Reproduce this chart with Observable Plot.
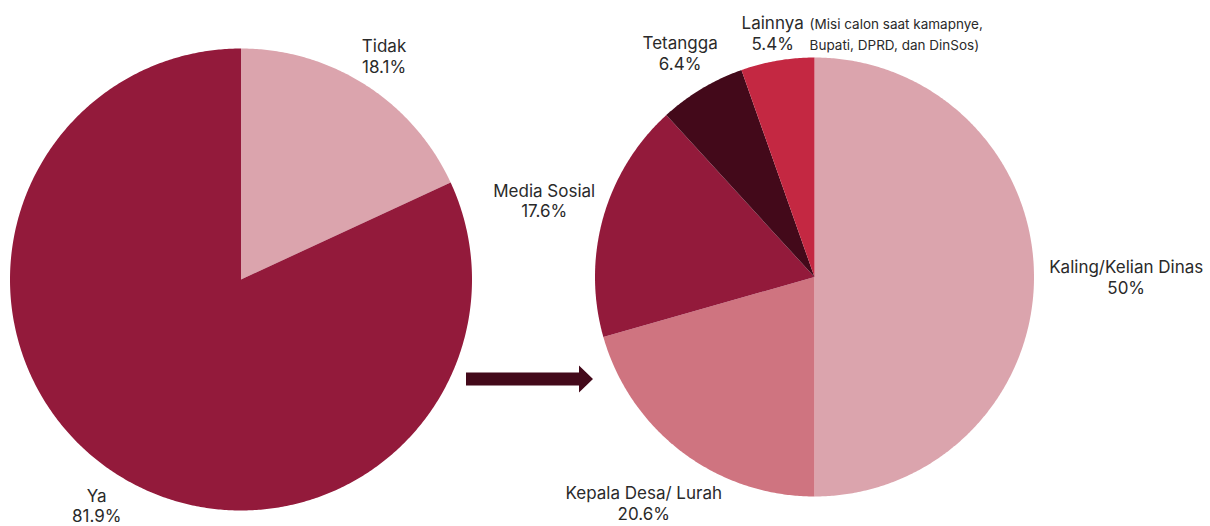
<!DOCTYPE html>
<html>
<head>
<meta charset="utf-8">
<script src="https://cdn.jsdelivr.net/npm/d3@7"></script>
<script src="https://cdn.jsdelivr.net/npm/@observablehq/plot@0.6"></script>
<style>
  html, body { margin: 0; padding: 0; background: #fff; }
  #chart { width: 1210px; height: 526px; }
</style>
</head>
<body>
<div id="chart"></div>
<script>
// ---- Data ----
const leftCategories = ["Tidak", "Ya"];
const leftValues = [18.1, 81.9];
const leftLabels = ["Tidak\n18.1%", "Ya\n81.9%"];
const leftColors = ["#dba4ad", "#931a3b"];

const rightCategories = ["Kaling/Kelian Dinas", "Kepala Desa/ Lurah", "Media Sosial", "Tetangga", "Lainnya"];
const rightValues = [50, 20.6, 17.6, 6.4, 5.4];
const rightLabels = ["Kaling/Kelian Dinas\n50%", "Kepala Desa/ Lurah\n20.6%", "Media Sosial\n17.6%", "Tetangga\n6.4%", "Lainnya\n5.4%"];
const rightColors = ["#dba4ad", "#cf7480", "#931a3b", "#43091a", "#c42842"];
const lainnyaNote = "(Misi calon saat kamapnye,\nBupati, DPRD, dan DinSos)";

// ---- Layout ----
const W = 1210, H = 526;
const leftPie = {cx: 240.5, cy: 279, r: 231, labelR: [1.15, 1.16]};
const rightPie = {cx: 814, cy: 276.5, r: 219.5, labelR: [1.42, 1.29, 1.28, 1.19, 1.13]};

function wedges(cats, vals, pie, prefix) {
  const total = d3.sum(vals);
  const pts = [];
  const labels = [];
  let acc = 0;
  cats.forEach((c, i) => {
    const a0 = acc / total * 2 * Math.PI;
    acc += vals[i];
    const a1 = acc / total * 2 * Math.PI;
    const key = prefix + c;
    pts.push({key, x: pie.cx, y: pie.cy});
    const n = Math.max(2, Math.ceil((a1 - a0) / (Math.PI / 360)));
    for (let k = 0; k <= n; k++) {
      const a = a0 + (a1 - a0) * k / n;
      pts.push({key, x: pie.cx + pie.r * Math.sin(a), y: pie.cy - pie.r * Math.cos(a)});
    }
    pts.push({key, x: pie.cx, y: pie.cy});
    const am = (a0 + a1) / 2;
    const lr = pie.r * pie.labelR[i];
    labels.push({key, x: pie.cx + lr * Math.sin(am), y: pie.cy - lr * Math.cos(am)});
  });
  return {pts, labels};
}

const L = wedges(leftCategories, leftValues, leftPie, "L:");
const R = wedges(rightCategories, rightValues, rightPie, "R:");
L.labels.forEach((d, i) => d.text = leftLabels[i]);
R.labels.forEach((d, i) => d.text = rightLabels[i]);

const colorDomain = [...leftCategories.map(c => "L:" + c), ...rightCategories.map(c => "R:" + c)];
const colorRange = [...leftColors, ...rightColors];

// Block arrow between the pies
const ax0 = leftPie.cx + leftPie.r - 6, ax1 = rightPie.cx - rightPie.r - 2, ay = 378.5;
const arrowPts = [
  [ax0, ay - 6.5], [ax1 - 14, ay - 6.5], [ax1 - 14, ay - 13.5], [ax1, ay],
  [ax1 - 14, ay + 13.5], [ax1 - 14, ay + 6.5], [ax0, ay + 6.5], [ax0, ay - 6.5]
].map(([x, y]) => ({key: "arrow", x, y}));

// Note next to "Lainnya"
const lainnyaLabel = R.labels[R.labels.length - 1];
const noteData = [{x: lainnyaLabel.x + 37, y: lainnyaLabel.y, text: lainnyaNote}];

const font = "Inter, Roboto, sans-serif";

const chart = Plot.plot({
  width: W,
  height: H,
  margin: 0,
  style: {background: "#fff", fontFamily: font},
  x: {domain: [0, W], range: [0, W], axis: null},
  y: {domain: [0, H], range: [0, H], axis: null},
  color: {domain: colorDomain, range: colorRange},
  marks: [
    Plot.line(L.pts, {x: "x", y: "y", z: "key", fill: "key", stroke: null, curve: "linear"}),
    Plot.line(R.pts, {x: "x", y: "y", z: "key", fill: "key", stroke: null, curve: "linear"}),
    Plot.line(arrowPts, {x: "x", y: "y", z: "key", fill: "#43091a", stroke: null}),
    Plot.text([...L.labels, ...R.labels], {x: "x", y: "y", text: "text", fontSize: 17, lineHeight: 1.22, fill: "#2a2a2a", textAnchor: "middle"}),
    Plot.text(noteData, {x: "x", y: "y", text: "text", fontSize: 13.5, lineHeight: 1.6, fill: "#2a2a2a", textAnchor: "start"})
  ]
});
document.getElementById("chart").appendChild(chart);
</script>
</body>
</html>
